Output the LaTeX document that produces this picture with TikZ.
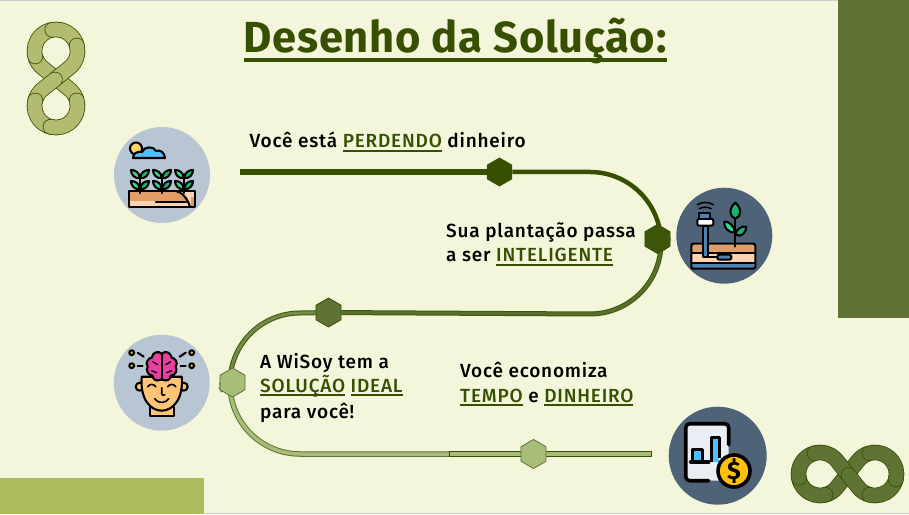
\documentclass[tikz,border=0pt]{standalone}
\usepackage{fontspec}
\setmainfont{Fira Sans}[BoldFont={Fira Sans Medium}]
\newfontfamily\headfont{Fira Sans}[BoldFont={Fira Sans Bold},LetterSpace=1.6]
\newfontfamily\bodyfont{Fira Sans}[BoldFont={Fira Sans Medium},LetterSpace=4.2]
\usetikzlibrary{shapes.geometric,backgrounds}

\definecolor{paper}{HTML}{F4F6DC}
\definecolor{deepolive}{HTML}{375000}
\definecolor{midolive}{HTML}{5F7434}
\definecolor{paleolive}{HTML}{A9BD7A}
\definecolor{sandolive}{HTML}{AEBB5F}
\definecolor{bandpale}{HTML}{B2BB70}
\definecolor{discpale}{HTML}{B8C6D3}
\definecolor{discdark}{HTML}{4F6378}
\definecolor{leafa}{HTML}{3AD68F}
\definecolor{leafb}{HTML}{14B873}
\definecolor{soilhi}{HTML}{DF9C66}
\definecolor{soillo}{HTML}{FFD3B0}
\definecolor{skyblue}{HTML}{4DBEFF}
\definecolor{steelblue}{HTML}{4D82B3}
\definecolor{sunny}{HTML}{FFD36B}
\definecolor{skin}{HTML}{FFC477}
\definecolor{brainpink}{HTML}{E8409F}
\definecolor{coin}{HTML}{FFC107}
\definecolor{sheet}{HTML}{E9EEF4}

\tikzset{
	hexmark/.style={regular polygon, regular polygon sides=6, shape border rotate=30, minimum size=29pt, inner sep=0pt, line width=0.8pt},
	label/.style={anchor=base west, inner sep=0pt, font=\bodyfont\bfseries\fontsize{19}{22}\selectfont},
	iconline/.style={draw=black, line width=2.1pt, line cap=round, line join=round},
}

\newcommand{\hlword}[1]{\textcolor{deepolive}{\setbox0\hbox{#1}\rlap{\rule[-.2em]{\wd0}{.075em}}\box0}}

% one piece of the ribbon
\newcommand{\ribbon}[2]{\draw[draw=#1, line width=0.8pt, double=#2, double distance=14pt, line cap=round]}

% the ribbon sign, drawn round the origin of a scope
\newcommand{\loopsign}[2]{%
	\ribbon{#1}{#2} (27.5,0)+(110:21.5) arc[start angle=110,end angle=141.4,radius=21.5] -- (-10.7,-13.4) arc[start angle=-38.6,end angle=-75,radius=21.5];
	\ribbon{#1}{#2} (-27.5,0)+(-75:21.5) arc[start angle=-75,end angle=-170,radius=21.5];
	\ribbon{#1}{#2} (-27.5,0)+(190:21.5) arc[start angle=190,end angle=105,radius=21.5];
	\ribbon{#1}{#2} (-27.5,0)+(105:21.5) arc[start angle=105,end angle=38.6,radius=21.5] -- (0,0);
	\ribbon{#1}{#2} (1,-1) -- (10.7,-13.4) arc[start angle=218.6,end angle=255,radius=21.5];
	\ribbon{#1}{#2} (27.5,0)+(-105:21.5) arc[start angle=-105,end angle=-10,radius=21.5];
	\ribbon{#1}{#2} (27.5,0)+(105:21.5) arc[start angle=105,end angle=-15,radius=21.5];
}

\newcommand{\leafpair}[2]{%
	\draw[iconline, fill=leafa] (#1,#2) .. controls (#1-1,#2+6) and (#1-5,#2+8) .. (#1-9,#2+8) .. controls (#1-9,#2+3) and (#1-5,#2-1) .. (#1,#2) -- cycle;
	\draw[iconline, fill=leafb] (#1,#2) .. controls (#1+1,#2+6) and (#1+5,#2+8) .. (#1+9,#2+8) .. controls (#1+9,#2+3) and (#1+5,#2-1) .. (#1,#2) -- cycle;
}

\begin{document}
\begin{tikzpicture}[x=1pt,y=1pt]
	\useasboundingbox (0,0) rectangle (909,514);

	% marks on the track
	\node[hexmark, fill=deepolive] (hexa) at (499.5,342) {};
	\node[hexmark, fill=deepolive!85!midolive, draw=deepolive] (hexb) at (657.5,275) {};
	\node[hexmark, fill=midolive, draw=deepolive] (hexc) at (328.5,201.5) {};
	\node[hexmark, fill=paleolive, draw=midolive] (hexd) at (232.5,131.5) {};
	\node[hexmark, fill=paleolive, draw=midolive] (hexe) at (533.5,60) {};
	\coordinate (trackstart) at (240,342);
	\coordinate (trackjoint) at (449,60);
	\coordinate (trackend) at (651.5,60);

	\begin{scope}[on background layer]
		\fill[paper] (0,0) rectangle (909,514);
		\fill[black!20] (0,513) rectangle (909,514);
		\fill[black!20] (0,0) rectangle (909,1);
		\fill[midolive] (838,196) rectangle (909,514);
		\fill[sandolive] (0,0) rectangle (204,36);

		\draw[deepolive, line width=5.5pt] (trackstart) -- (hexa);
		\draw[deepolive, line width=4.5pt] (hexa) -- (590,342) arc[start angle=90,end angle=3,radius=71] -- (hexb);
		\draw[deepolive!80!midolive, line width=1pt, double=midolive!85!deepolive, double distance=3pt] (hexb) -- (661,271) arc[start angle=0,end angle=-90,radius=71] -- (hexc);
		\draw[deepolive!80!midolive, line width=1pt, double=midolive!70!paleolive, double distance=3pt] (hexc) -- (300,201) arc[start angle=90,end angle=180,radius=70] -- (hexd);
		\draw[midolive, line width=1pt, double=paleolive, double distance=3.5pt] (hexd) -- (230,130) arc[start angle=180,end angle=270,radius=70] -- (trackjoint);
		\draw[deepolive, line width=1pt, double=paleolive, double distance=3.5pt] (trackjoint) -- (hexe);
		\draw[deepolive, line width=1pt, double=paleolive, double distance=3.5pt] (hexe) -- (trackend);
		\draw[deepolive, line width=0.9pt] (trackend)+(0,3.2) -- +(0,-3.2);
		\draw[deepolive, line width=0.9pt] (trackjoint)+(0,3.2) -- +(0,-3.2);
	\end{scope}

	% title and texts
	\node[anchor=base west, inner sep=0pt, font=\headfont\bfseries\fontsize{43.5}{48}\selectfont] (title) at (243.5,461) {\hlword{Desenho da Solução:}};
	\node[label] (texta) at (249.5,366) {Você está \hlword{PERDENDO} dinheiro};
	\node[label] (textb) at (446,276) {Sua plantação passa};
	\node[label] (textc) at (446,252) {a ser \hlword{INTELIGENTE}};
	\node[label] (textd) at (260,146) {A WiSoy tem a};
	\node[label] (texte) at (260,122) {\hlword{SOLUÇÃO} \hlword{IDEAL}};
	\node[label] (textf) at (260,96) {para você!};
	\node[label] (textg) at (460,136) {Você economiza};
	\node[label] (texth) at (460,112) {\hlword{TEMPO} e \hlword{DINHEIRO}};

	% ribbon signs
	\begin{scope}[shift={(56,435.5)}, rotate=-90]
		\loopsign{deepolive}{bandpale}
	\end{scope}
	\begin{scope}[shift={(847.5,40)}]
		\loopsign{deepolive}{midolive}
	\end{scope}

	% field
	\begin{scope}[shift={(162,339)}]
		\fill[discpale] (0,0) circle[radius=48];
		\draw[iconline, fill=sunny] (-26,26.5) circle[radius=6];
		\draw[iconline, fill=skyblue] (-29,17) .. controls (-29,22) and (-24,24) .. (-20,23) .. controls (-18,29) and (-8,29) .. (-6,24) .. controls (-2,26) and (3,22) .. (3,17) -- cycle;
		\fill[soillo] (-33,-32) rectangle (33,-16);
		\fill[soilhi] (-32,-17) -- (14,-17) .. controls (20,-18) and (26,-24) .. (28,-31) -- (-32,-31) -- (-32,-25) -- cycle;
		\fill[soillo] (-32,-31) rectangle (26,-26);
		\fill[soilhi] (29,-22) rectangle (32,-31);
		\draw[iconline] (-33,-32) rectangle (33,-16);
		\draw[iconline] (14,-16) .. controls (20,-17) and (26,-24) .. (28,-32);
		\draw[iconline] (-6,-27) -- (24,-27);
		\foreach \plantx in {-22,0,22}{
			\draw[iconline] (\plantx,-3) -- (\plantx,-18);
			\leafpair{\plantx}{-3}
			\leafpair{\plantx}{-14}
		}
	\end{scope}

	% probe in the soil
	\begin{scope}[shift={(724.3,278.3)}]
		\fill[discdark] (0,0) circle[radius=48];
		\fill[soillo, rounded corners=2pt] (-33,-33) rectangle (31,-8);
		\fill[soilhi] (-32,-9) rectangle (30,-17);
		\fill[steelblue] (-32,-27) rectangle (30,-32);
		\draw[iconline] (-33,-17) -- (31,-17);
		\draw[iconline] (-33,-27) -- (31,-27);
		\draw[iconline, rounded corners=2pt] (-33,-33) rectangle (31,-8);
		\draw[iconline, fill=steelblue] (-21,10) rectangle (-16,-21);
		\draw[iconline] (-16,-21) -- (-7,-21);
		\draw[iconline, fill=steelblue, rounded corners=2pt] (-7,-19) rectangle (7,-24);
		\draw[iconline, fill=white, rounded corners=2pt] (-27,17) rectangle (-11,10);
		\draw[iconline, fill=steelblue] (-25,23) rectangle (-14,17);
		\draw[iconline, line width=1.5pt] (-25,27) .. controls (-22,29) and (-16,29) .. (-13,27);
		\draw[iconline, line width=1.5pt] (-27,31) .. controls (-22,34) and (-16,34) .. (-11,31);
		\draw[iconline] (11,-11) -- (11,23);
		\draw[iconline, fill=leafb] (11,33) .. controls (4,27) and (5,19) .. (11,17) .. controls (17,19) and (18,27) .. (11,33) -- cycle;
		\draw[iconline, fill=leafa] (11,3) .. controls (10,10) and (4,15) .. (0,14) .. controls (-1,8) and (4,3) .. (11,3) -- cycle;
		\draw[iconline, fill=leafb] (11,1) .. controls (12,7) and (18,10) .. (22,9) .. controls (22,3) and (17,-2) .. (11,1) -- cycle;
	\end{scope}

	% head and brain
	\begin{scope}[shift={(161.7,131.3)}]
		\fill[discpale] (0,0) circle[radius=48];
		\draw[iconline, fill=skin] (-12,-24) rectangle (12,-33);
		\draw[iconline, fill=skin] (-22,-4) circle[radius=4];
		\draw[iconline, fill=skin] (22,-4) circle[radius=4];
		\draw[iconline, fill=skin] (-20,6) .. controls (-22,-18) and (-10,-28) .. (0,-28) .. controls (10,-28) and (22,-18) .. (20,6) -- cycle;
		\draw[iconline, fill=brainpink] (-1,3) .. controls (-5,1) and (-9,3) .. (-9,7) .. controls (-14,7) and (-16,13) .. (-14,16) .. controls (-17,20) and (-13,25) .. (-10,25) .. controls (-9,31) and (-3,32) .. (0,29) .. controls (3,32) and (9,31) .. (10,25) .. controls (13,25) and (17,20) .. (14,16) .. controls (16,13) and (14,7) .. (9,7) .. controls (9,3) and (5,1) .. (1,3) -- cycle;
		\draw[iconline] (0,29) -- (0,3);
		\draw[iconline, line width=1.2pt] (-9,21) -- (-4,18);
		\draw[iconline, line width=1.2pt] (9,21) -- (4,18);
		\draw[iconline, line width=1.2pt] (-10,12) -- (-5,10);
		\draw[iconline, line width=1.2pt] (10,12) -- (5,10);
		\draw[iconline, line width=1.6pt] (-14,-4) .. controls (-12,-1) and (-8,-1) .. (-6,-4);
		\draw[iconline, line width=1.6pt] (14,-4) .. controls (12,-1) and (8,-1) .. (6,-4);
		\draw[iconline, line width=1.6pt] (0,-5) -- (0,-11) .. controls (0,-13) and (2,-13) .. (3,-12);
		\draw[iconline, line width=1.6pt] (-7,-16) .. controls (-4,-21) and (4,-21) .. (7,-16);
		\foreach \dotx/\doty in {-30/30,-30/17,30/30,30/17}
			\draw[iconline, fill=coin] (\dotx,\doty) circle[radius=2.4];
		\draw[iconline] (-24,17) -- (-19,17);
		\draw[iconline] (24,17) -- (19,17);
		\draw[iconline] (-24,30) -- (-18,26);
		\draw[iconline] (24,30) -- (18,26);
	\end{scope}

	% report and coin
	\begin{scope}[shift={(717.7,58.3)}]
		\fill[discdark] (0,0) circle[radius=49];
		\fill[sheet, rounded corners=4pt] (-31,31) rectangle (11,-25);
		\draw[black, line width=3.6pt, line cap=round, line join=round, rounded corners=4pt] (11,11) -- (11,32) -- (-32,32) -- (-32,-25) -- (-9,-25);
		\draw[black, line width=3pt, fill=skyblue, line join=round] (-25,-5) -- (-25,6) -- (-15,6) -- (-15,-5);
		\draw[black, line width=3.6pt, line cap=round] (-27,-6) -- (-9,-6);
		\draw[black, line width=3pt, fill=skyblue, line join=round] (-6,-6) -- (-6,18) -- (2,18) -- (2,-2);
		\fill[skyblue] (-5,-6) rectangle (1,-3);
		\draw[black, line width=3.6pt, fill=coin] (16.3,-15.3) circle[radius=16];
		\node[font=\headfont\bfseries\fontsize{25}{25}\selectfont, inner sep=0pt] (dollar) at (16.3,-15.3) {\$};
	\end{scope}
\end{tikzpicture}
\end{document}
